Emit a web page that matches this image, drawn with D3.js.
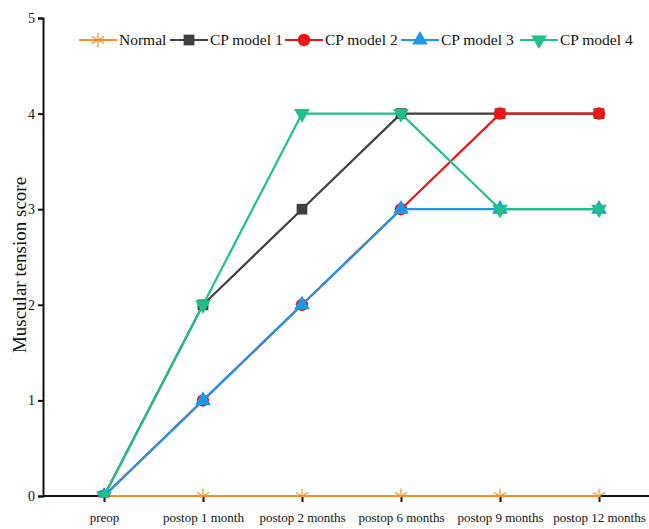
<!DOCTYPE html>
<html>
<head>
<meta charset="utf-8">
<script src="https://cdn.jsdelivr.net/npm/d3@7"></script>
<style>
  body { margin: 0; background: #fff; }
  text { font-family: "Liberation Serif", "Times New Roman", serif; }
</style>
</head>
<body>
<div id="chart"></div>
<script>
// categories and series
var timepoints = ["preop", "postop 1 month", "postop 2 months", "postop 6 months", "postop 9 months", "postop 12 months"];
var seriesNames = ["Normal", "CP model 1", "CP model 2", "CP model 3", "CP model 4"];
var normal = [0, 0, 0, 0, 0, 0];
var cp1 = [0, 2, 3, 4, 4, 4];
var cp2 = [0, 1, 2, 3, 4, 4];
var cp3 = [0, 1, 2, 3, 3, 3];
var cp4 = [0, 2, 4, 4, 3, 3];
var yTicks = [0, 1, 2, 3, 4, 5];

const width = 649, height = 529;
const colors = ["#f0922a", "#3f3f3f", "#f01414", "#1f97e8", "#1fc08a"];
const symbols = ["asterisk", "square", "circle", "triangleUp", "triangleDown"];
const allSeries = [normal, cp1, cp2, cp3, cp4];

const svg = d3.select("#chart").append("svg")
    .attr("width", width)
    .attr("height", height);

const xScale = d3.scalePoint().domain(timepoints).range([104, 599]);
const yScale = d3.scaleLinear().domain([0, 5]).range([496, 18]);
const axisLeft = 43, axisRight = 649;

// clip so markers on the baseline get cut in half like the original
svg.append("defs").append("clipPath").attr("id", "plotClip")
    .append("rect").attr("x", axisLeft).attr("y", 0)
    .attr("width", axisRight - axisLeft).attr("height", yScale(0) + 1.3);

// axes
const xAxis = svg.append("g")
    .attr("transform", `translate(0, ${yScale(0)})`)
    .call(d3.axisBottom(xScale).tickSizeOuter(0).tickSize(6).tickPadding(11));
xAxis.select(".domain").attr("d", `M${axisLeft},0H${axisRight}`);
xAxis.selectAll("line, path").attr("stroke", "#111").attr("stroke-width", 2);
xAxis.selectAll("text").attr("font-size", 13).attr("fill", "#111")
    .style("font-family", "'Liberation Serif', serif");

const yAxis = svg.append("g")
    .attr("transform", `translate(${axisLeft}, 0)`)
    .call(d3.axisLeft(yScale).tickValues(yTicks).tickFormat(d3.format("d")).tickSizeOuter(0).tickSize(5).tickPadding(3));
yAxis.selectAll("line, path").attr("stroke", "#111").attr("stroke-width", 2);
yAxis.selectAll("text").attr("font-size", 14).attr("fill", "#111")
    .style("font-family", "'Liberation Serif', serif");

svg.append("text")
    .attr("transform", `translate(26, ${yScale(2.5) + 8}) rotate(-90)`)
    .attr("text-anchor", "middle")
    .attr("font-size", 19)
    .attr("fill", "#111")
    .text("Muscular tension score");

// marker helper
function drawMarker(g, type, color, cx, cy, size) {
    if (type === "asterisk") {
        const r = size * 0.6;
        const p = d3.path();
        for (let a = 0; a < 3; a++) {
            const ang = Math.PI / 2 + a * Math.PI / 3;
            p.moveTo(cx - r * Math.cos(ang), cy - r * Math.sin(ang));
            p.lineTo(cx + r * Math.cos(ang), cy + r * Math.sin(ang));
        }
        g.append("path").attr("d", p.toString()).attr("stroke", color).attr("stroke-width", 1.2).attr("fill", "none");
    } else {
        const symType = {
            square: d3.symbolSquare,
            circle: d3.symbolCircle,
            triangleUp: d3.symbolTriangle,
            triangleDown: d3.symbolTriangle
        }[type];
        const area = type === "circle" ? size * size * 0.85 : (type === "square" ? size * size * 0.8 : size * size * 0.75);
        g.append("path")
            .attr("d", d3.symbol().type(symType).size(area)())
            .attr("transform", `translate(${cx}, ${cy})` + (type === "triangleDown" ? " rotate(180)" : ""))
            .attr("fill", color);
    }
}

const plot = svg.append("g").attr("clip-path", "url(#plotClip)");

const line = d3.line()
    .x((d, i) => xScale(timepoints[i]))
    .y(d => yScale(d));

allSeries.forEach(function (values, s) {
    const g = plot.append("g");
    g.append("path")
        .datum(values)
        .attr("d", line)
        .attr("fill", "none")
        .attr("stroke", colors[s])
        .attr("stroke-width", 2.2);
    values.forEach(function (v, i) {
        drawMarker(g, symbols[s], colors[s], xScale(timepoints[i]), yScale(v), 12);
    });
});

// legend
const legendX = [79, 170, 285, 401, 520];
const legend = svg.append("g").attr("transform", "translate(0, 40)");
seriesNames.forEach(function (name, s) {
    const x0 = legendX[s];
    const g = legend.append("g");
    g.append("line").attr("x1", x0).attr("x2", x0 + 38).attr("y1", 0).attr("y2", 0)
        .attr("stroke", colors[s]).attr("stroke-width", 2.2);
    drawMarker(g, symbols[s], colors[s], x0 + 19, 0, 12);
    g.append("text").attr("x", x0 + 40).attr("y", 5)
        .attr("font-size", 15.5).attr("fill", "#111").text(name);
});
</script>
</body>
</html>
